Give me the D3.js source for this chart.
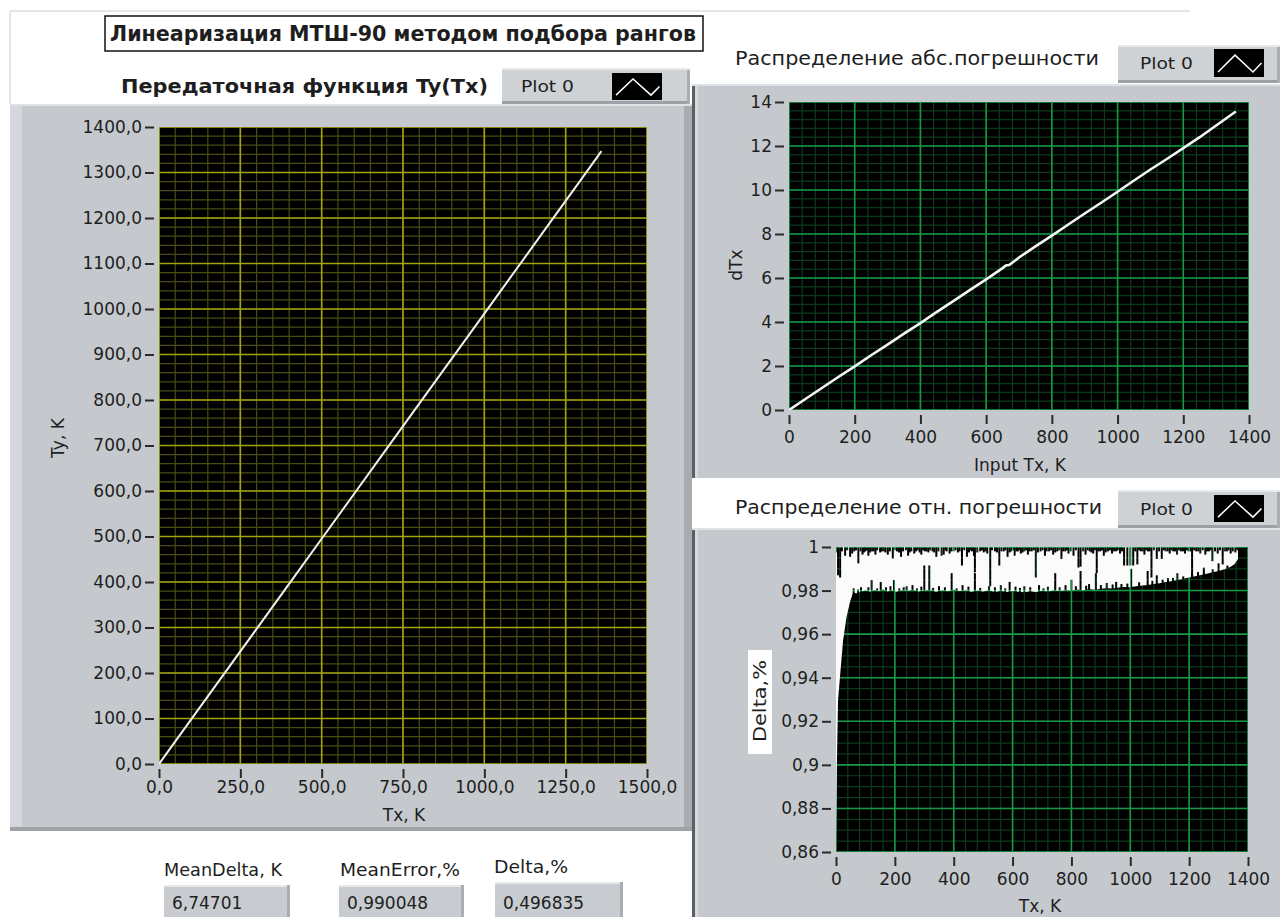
<!DOCTYPE html>
<html><head><meta charset="utf-8">
<script src="https://cdn.jsdelivr.net/npm/d3@7"></script>
<style>
body{margin:0;background:#fff}
svg{display:block}
text{font-family:"DejaVu Sans",sans-serif;fill:#1e1e1e}
</style>
</head><body>
<svg id="c" width="1280" height="917"></svg>
<script>
// ---------------- DATA ----------------
const mainTitle = "Линеаризация МТШ-90  методом подбора рангов";
const transferTitle = "Передаточная функция Ty(Tx)";
const absTitle = "Распределение абс.погрешности";
const relTitle = "Распределение отн. погрешности";
const legendName = "Plot 0";

// Transfer function Ty(Tx)
const transferTx = [0, 100, 200, 300, 400, 500, 600, 700, 800, 900, 1000, 1100, 1200, 1300, 1360];
const transferTy = [0, 99, 198, 297, 396, 495, 594, 693, 792, 891, 990, 1089, 1188, 1287, 1347];
const transferXTicks = [0, 250, 500, 750, 1000, 1250, 1500];
const transferYTicks = [0, 100, 200, 300, 400, 500, 600, 700, 800, 900, 1000, 1100, 1200, 1300, 1400];

// Absolute error dTx(Tx)
const absTx  = [0, 50, 100, 150, 200, 250, 300, 350, 400, 450, 500, 550, 600, 650, 660, 670, 700, 750, 800, 850, 900, 950, 1000, 1050, 1100, 1150, 1200, 1250, 1300, 1360];
const absDTx = [0, 0.5, 1.0, 1.5, 1.98, 2.49, 2.97, 3.47, 3.95, 4.46, 4.95, 5.45, 5.94, 6.45, 6.57, 6.59, 6.93, 7.44, 7.93, 8.43, 8.93, 9.42, 9.92, 10.43, 10.93, 11.41, 11.9, 12.4, 12.93, 13.57];
const absXTicks = [0, 200, 400, 600, 800, 1000, 1200, 1400];
const absYTicks = [0, 2, 4, 6, 8, 10, 12, 14];

// Relative error Delta,% : lower edge of the dense trace (top is clipped at 1)
const relLower = [[0,0.865],[3,0.900],[7,0.930],[14,0.941],[24,0.957],[36,0.968],[48,0.975],[58,0.979],[70,0.9788],[85,0.9795],
 [100,0.9801],[115,0.9794],[130,0.9803],[145,0.9797],[160,0.9805],[175,0.9796],[190,0.9802],[205,0.9795],[220,0.9801],[240,0.9798],
 [260,0.9804],[280,0.9796],[300,0.9800],[320,0.9803],[340,0.9795],[360,0.9801],[380,0.9797],[400,0.9804],[420,0.9798],[440,0.9801],
 [460,0.9795],[480,0.9800],[500,0.9796],[520,0.9802],[540,0.9794],[560,0.9799],[580,0.9793],[600,0.9798],[620,0.9795],[640,0.9792],
 [660,0.9797],[680,0.9794],[700,0.9799],[720,0.9796],[740,0.9801],[760,0.9798],[780,0.9803],[800,0.9800],[820,0.9805],[840,0.9802],
 [860,0.9807],[880,0.9804],[900,0.9808],[920,0.9811],[940,0.9809],[960,0.9814],[980,0.9816],[1000,0.9815],[1020,0.9820],[1040,0.9823],
 [1060,0.9826],[1080,0.9830],[1100,0.9834],[1120,0.9839],[1140,0.9843],[1160,0.9849],[1180,0.9854],[1200,0.9860],[1220,0.9866],[1240,0.9871],
 [1260,0.9877],[1280,0.9884],[1300,0.9890],[1320,0.9898],[1340,0.9908],[1355,0.9922],[1366,0.9945]];
// downward drop-outs from the top of the trace
const relDips = [[7,0.987],[14,0.986],[31,0.996],[48,0.9955],[62,0.998],[76,0.9925],[90,0.9965],[100,0.998],[110,0.996],[122,0.998],
 [134,0.9965],[150,0.9975],[162,0.998],[176,0.9965],[193,0.9947],[207,0.998],[221,0.9955],[245,0.996],[256,0.998],[266,0.997],
 [278,0.9985],[290,0.9965],[302,0.998],[314,0.9975],[328,0.998],[341,0.9955],[359,0.996],[366,0.9965],[376,0.998],[386,0.997],
 [400,0.998],[414,0.9975],[428,0.9915],[445,0.9955],[452,0.9975],[462,0.998],[469,0.996],[472,0.9884],[490,0.998],[502,0.9975],
 [514,0.997],[524,0.982],[540,0.998],[555,0.9915],[570,0.998],[583,0.9955],[596,0.998],[607,0.996],[618,0.998],[628,0.997],
 [640,0.998],[652,0.9965],[665,0.998],[679,0.986],[695,0.998],[710,0.996],[724,0.998],[738,0.9965],[752,0.998],[766,0.9945],
 [779,0.998],[790,0.997],[807,0.996],[824,0.9906],[831,0.991],[848,0.9965],[862,0.998],[874,0.997],[886,0.988],[898,0.998],
 [910,0.996],[924,0.998],[938,0.997],[952,0.998],[965,0.997],[979,0.9915],[990,0.9915],[1000,0.9915],[1010,0.9915],[1024,0.992],
 [1036,0.998],[1048,0.9965],[1060,0.998],[1072,0.986],[1090,0.9945],[1107,0.9945],[1120,0.998],[1134,0.997],[1146,0.998],[1159,0.9965],
 [1172,0.998],[1186,0.997],[1198,0.998],[1210,0.9857],[1224,0.998],[1238,0.997],[1255,0.9965],[1267,0.998],[1279,0.9935],[1297,0.997],
 [1314,0.992],[1328,0.998],[1341,0.997],[1357,0.9975],
 [3,0.9975],[20,0.998],[38,0.9985],[55,0.997],[68,0.9985],[83,0.998],[95,0.9975],[105,0.9985],[116,0.9975],[128,0.998],
 [140,0.9985],[156,0.998],[168,0.9975],[183,0.998],[200,0.9985],[214,0.9975],[228,0.998],[238,0.9985],[250,0.9975],[272,0.998],
 [284,0.9975],[296,0.9985],[308,0.998],[320,0.9985],[334,0.9975],[348,0.998],[372,0.9985],[392,0.998],[406,0.9985],[420,0.998],
 [436,0.9985],[458,0.9985],[480,0.9975],[496,0.9985],[508,0.998],[530,0.9985],[547,0.9975],[562,0.998],[576,0.9985],[590,0.9975],
 [602,0.9985],[613,0.998],[623,0.9985],[634,0.9975],[646,0.9985],[658,0.998],[672,0.9985],[686,0.9975],[702,0.9985],[716,0.998],
 [731,0.9985],[745,0.9975],[759,0.9985],[772,0.998],[785,0.9985],[798,0.998],[815,0.9985],[840,0.998],[855,0.9985],[868,0.9975],
 [880,0.9985],[892,0.998],[904,0.9985],[917,0.9975],[931,0.9985],[945,0.998],[958,0.9985],[972,0.998],[1017,0.998],[1030,0.9985],
 [1042,0.998],[1054,0.9985],[1066,0.998],[1080,0.9985],[1098,0.998],[1114,0.9985],[1127,0.998],[1140,0.9985],[1152,0.998],[1165,0.9985],
 [1179,0.998],[1192,0.9985],[1204,0.998],[1217,0.9985],[1231,0.998],[1246,0.9985],[1261,0.998],[1273,0.9985],[1288,0.998],[1305,0.9985],
 [1321,0.998],[1334,0.9985],[1348,0.998],[1363,0.9985]];
// upward excursions of the lower edge
const relRises = [[60,0.981],[85,0.9815],[121,0.9848],[152,0.9839],[197,0.9848],[240,0.982],[260,0.9825],[300,0.9915],[317,0.9915],[350,0.982],
 [393,0.988],[430,0.9825],[472,0.988],[520,0.982],[560,0.9825],[590,0.984],[640,0.982],[690,0.9825],[745,0.988],[800,0.985],
 [831,0.989],[860,0.983],[883,0.988],[920,0.9835],[952,0.984],[1003,0.990],[1059,0.989],[1090,0.987],[1128,0.9857],[1160,0.988],
 [1210,0.988],[1250,0.9905],[1300,0.9925],
 [75,0.9805],[110,0.9815],[140,0.981],[170,0.9815],[185,0.982],[215,0.981],[230,0.9815],[275,0.981],[290,0.9818],[330,0.9812],
 [370,0.9815],[410,0.981],[450,0.9818],[490,0.9812],[540,0.9815],[575,0.981],[610,0.9818],[625,0.9812],[660,0.9815],[705,0.981],
 [720,0.9818],[760,0.9815],[780,0.9825],[815,0.982],[850,0.9822],[900,0.9825],[940,0.9828],[970,0.983],[990,0.9832],[1030,0.9838],
 [1075,0.9845],[1110,0.985],[1145,0.9858],[1180,0.9865],[1230,0.9885],[1280,0.9898],[1330,0.9915]];
const relXTicks = [0, 200, 400, 600, 800, 1000, 1200, 1400];
const relYTicks = [0.86, 0.88, 0.9, 0.92, 0.94, 0.96, 0.98, 1];

// indicators
const indicatorLabels = ["MeanDelta, K", "MeanError,%", "Delta,%"];
const indicatorValues = ["6,74701", "0,990048", "0,496835"];

// ---------------- DRAWING ----------------
const svg = d3.select("#c");
const PANEL = "#c5c9cd";
const FONT = '"DejaVu Sans",sans-serif';

svg.append("line").attr("x1",10).attr("y1",11).attr("x2",1190).attr("y2",11).attr("stroke","#e4e6e8").attr("stroke-width",2);
svg.append("line").attr("x1",10).attr("y1",11).attr("x2",10).attr("y2",104).attr("stroke","#e4e6e8").attr("stroke-width",2);

svg.append("rect").attr("x",105).attr("y",16).attr("width",598).attr("height",35)
  .attr("fill","#fff").attr("stroke","#111").attr("stroke-width",1.5);
svg.append("text").attr("x",110).attr("y",34).attr("dominant-baseline","central")
  .attr("font-size",21).attr("font-weight","bold").attr("textLength",586).attr("lengthAdjust","spacingAndGlyphs")
  .text(mainTitle);

function panel(x, y, w, h, leftDark) {
  const g = svg.append("g");
  g.append("rect").attr("x",x).attr("y",y).attr("width",w).attr("height",h).attr("fill",PANEL);
  if (leftDark) {
    g.append("rect").attr("x",x).attr("y",y).attr("width",3).attr("height",h).attr("fill","#5c6064");
    g.append("rect").attr("x",x+3).attr("y",y).attr("width",3).attr("height",h).attr("fill","#d6d9dd");
  } else {
    g.append("rect").attr("x",x).attr("y",y).attr("width",12).attr("height",h).attr("fill","#d4d8dd");
    g.append("rect").attr("x",x+w-8).attr("y",y).attr("width",8).attr("height",h).attr("fill","#a8acb0");
    g.append("rect").attr("x",x).attr("y",y+h-4).attr("width",w).attr("height",4).attr("fill","#9ea2a6");
  }
  g.append("rect").attr("x",x).attr("y",y).attr("width",w).attr("height",2).attr("fill","#dfe2e5");
}

function legend(x, y, w, h, ix, iy, iw, ih, tx, ty) {
  const g = svg.append("g");
  g.append("rect").attr("x",x).attr("y",y).attr("width",w).attr("height",h).attr("fill","#cfd2d5");
  g.append("rect").attr("x",x).attr("y",y+h-3).attr("width",w).attr("height",3).attr("fill","#9da1a5");
  g.append("rect").attr("x",x+w-3).attr("y",y).attr("width",3).attr("height",h).attr("fill","#a9adb1");
  g.append("rect").attr("x",x).attr("y",y).attr("width",w).attr("height",2).attr("fill","#e6e8ea");
  g.append("text").attr("x",tx).attr("y",ty).attr("dominant-baseline","central").attr("font-size",16)
    .attr("textLength",53).attr("lengthAdjust","spacingAndGlyphs").text(legendName);
  g.append("rect").attr("x",ix).attr("y",iy).attr("width",iw).attr("height",ih).attr("fill","#000");
  const pts = [[0.08,0.82],[0.42,0.22],[0.78,0.82],[0.95,0.5]].map(p => [ix + p[0]*iw, iy + p[1]*ih]);
  g.append("polyline").attr("points", pts.map(p => p.join(",")).join(" "))
    .attr("fill","none").attr("stroke","#fff").attr("stroke-width",1.5);
}

function plot(cfg) {
  const {x, y, w, h, xDom, yDom, xMinor, yMinor, xTicks, yTicks, major, minor, xFmt, yFmt, xPad} = cfg;
  const xs = d3.scaleLinear().domain(xDom).range([x, x + w]);
  const ys = d3.scaleLinear().domain(yDom).range([y + h, y]);
  const g = svg.append("g");
  const clipId = "clip" + Math.round(x);
  svg.append("clipPath").attr("id", clipId).append("rect").attr("x",x).attr("y",y).attr("width",w).attr("height",h);
  g.append("rect").attr("x",x).attr("y",y).attr("width",w).attr("height",h).attr("fill","#000");
  const grid = g.append("g").attr("clip-path", `url(#${clipId})`);
  const eps = 1e-9;
  grid.selectAll(".vm").data(d3.range(xDom[0], xDom[1] + eps, xMinor)).join("line")
    .attr("x1", d => xs(d)).attr("x2", d => xs(d)).attr("y1", y).attr("y2", y + h)
    .attr("stroke", minor).attr("stroke-width", 1.2);
  grid.selectAll(".hm").data(d3.range(yDom[0], yDom[1] + eps, yMinor)).join("line")
    .attr("y1", d => ys(d)).attr("y2", d => ys(d)).attr("x1", x).attr("x2", x + w)
    .attr("stroke", minor).attr("stroke-width", 1.2);
  grid.selectAll(".vM").data(xTicks).join("line")
    .attr("x1", d => xs(d)).attr("x2", d => xs(d)).attr("y1", y).attr("y2", y + h)
    .attr("stroke", major).attr("stroke-width", 1.6);
  grid.selectAll(".hM").data(yTicks).join("line")
    .attr("y1", d => ys(d)).attr("y2", d => ys(d)).attr("x1", x).attr("x2", x + w)
    .attr("stroke", major).attr("stroke-width", 1.6);

  const ya = svg.append("g").attr("transform", `translate(${x - 5},0)`)
    .call(d3.axisLeft(ys).tickValues(yTicks).tickFormat(yFmt).tickSize(9).tickPadding(3));
  const xa = svg.append("g").attr("transform", `translate(0,${y + h + 5})`)
    .call(d3.axisBottom(xs).tickValues(xTicks).tickFormat(xFmt).tickSize(9).tickPadding(xPad));
  [ya, xa].forEach(a => {
    a.select(".domain").remove();
    a.selectAll(".tick line").attr("stroke", "#2a2a2a").attr("stroke-width", 2);
    a.selectAll(".tick text").attr("fill", "#1e1e1e").attr("font-size", 17)
      .attr("font-family", FONT);
  });
  return {xs, ys, clipId, g};
}

function label(txt, x, y, opts = {}) {
  const t = svg.append("text").attr("x", x).attr("y", y).attr("dominant-baseline", "central")
    .attr("font-size", opts.size || 17).attr("text-anchor", opts.anchor || "middle").text(txt);
  if (opts.rotate) t.attr("transform", `rotate(-90,${x},${y})`);
  if (opts.bold) t.attr("font-weight", "bold");
  if (opts.len) t.attr("textLength", opts.len).attr("lengthAdjust", "spacingAndGlyphs");
  return t;
}

// ---------- Left: transfer function ----------
panel(10, 104, 682, 727, false);
label(transferTitle, 121, 86, {anchor: "start", size: 20, bold: true, len: 367});
legend(502, 68, 188, 36, 612, 73, 50, 27, 521, 86);

const commaFmt1 = d => d3.format(".1f")(d).replace(".", ",");
const L = plot({x: 159, y: 127, w: 488, h: 637, xDom: [0, 1500], yDom: [0, 1400], xMinor: 50, yMinor: 20,
  xTicks: transferXTicks, yTicks: transferYTicks, major: "#a3a312", minor: "#4b4b12",
  xFmt: commaFmt1, yFmt: commaFmt1, xPad: 3});
svg.append("path").datum(transferTx.map((t, i) => [t, transferTy[i]]))
  .attr("clip-path", `url(#${L.clipId})`)
  .attr("d", d3.line().x(d => L.xs(d[0])).y(d => L.ys(d[1])))
  .attr("fill", "none").attr("stroke", "#f0f0f0").attr("stroke-width", 2);
label("Ty, K", 58, 438, {rotate: true});
label("Tx, K", 404, 815);

// ---------- Right top: absolute error ----------
panel(692, 84, 588, 394, true);
label(absTitle, 735, 58, {anchor: "start", size: 19, len: 364});
legend(1118, 45, 162, 38, 1214, 49, 50, 28, 1140, 63);
const A = plot({x: 789, y: 102, w: 460, h: 308, xDom: [0, 1400], yDom: [0, 14], xMinor: 40, yMinor: 0.4,
  xTicks: absXTicks, yTicks: absYTicks, major: "#169845", minor: "#0c3a1c",
  xFmt: d => String(d), yFmt: d => String(d), xPad: 7});
svg.append("path").datum(absTx.map((t, i) => [t, absDTx[i]]))
  .attr("clip-path", `url(#${A.clipId})`)
  .attr("d", d3.line().x(d => A.xs(d[0])).y(d => A.ys(d[1])))
  .attr("fill", "none").attr("stroke", "#f4f4f4").attr("stroke-width", 2.6);
label("dTx", 736, 265, {rotate: true});
label("Input Tx, K", 1020, 465);

// ---------- Right bottom: relative error ----------
panel(692, 528, 588, 389, true);
label(relTitle, 735, 507, {anchor: "start", size: 19, len: 367});
legend(1118, 490, 162, 38, 1214, 495, 50, 27, 1140, 509);
const relFmt = d => String(+d.toFixed(2)).replace(".", ",");
const R = plot({x: 836, y: 547, w: 412, h: 305, xDom: [0, 1400], yDom: [0.86, 1], xMinor: 40, yMinor: 0.005,
  xTicks: relXTicks, yTicks: relYTicks, major: "#169845", minor: "#0c3a1c",
  xFmt: d => String(d), yFmt: relFmt, xPad: 7});

const mask = svg.append("mask").attr("id", "relMask").attr("maskUnits", "userSpaceOnUse")
  .attr("x", 0).attr("y", 0).attr("width", 1280).attr("height", 917);
mask.append("rect").attr("x", 0).attr("y", 0).attr("width", 1280).attr("height", 917).attr("fill", "#fff");
mask.selectAll(".dip").data(relDips).join("rect")
  .attr("x", d => R.xs(d[0]) - 1).attr("width", 2)
  .attr("y", R.ys(1) - 2).attr("height", d => R.ys(d[1]) - R.ys(1) + 2).attr("fill", "#000");
mask.selectAll(".rise").data(relRises).join("rect")
  .attr("x", d => R.xs(d[0]) - 1).attr("width", 2)
  .attr("y", d => R.ys(d[1])).attr("height", d => R.ys(0.975) - R.ys(d[1])).attr("fill", "#000");

svg.append("g").attr("clip-path", `url(#${R.clipId})`)
  .append("path").datum(relLower)
  .attr("mask", "url(#relMask)")
  .attr("d", d3.area().x(d => R.xs(d[0])).y0(d => R.ys(d[1])).y1(R.ys(1) - 2))
  .attr("fill", "#fbfbfb");

svg.append("rect").attr("x", 748).attr("y", 650).attr("width", 24).attr("height", 104).attr("fill", "#fff");
label("Delta,%", 760, 701, {rotate: true, len: 82});
label("Tx, K", 1040, 906);

// ---------- Indicators ----------
const indLabelX = [164, 340, 494], indLabelY = [870, 870, 867], indLabelW = [118, 120, 74];
const indBoxX = [164, 339, 495], indBoxY = [885, 885, 882], indBoxW = [126, 125, 128];
indicatorLabels.forEach((t, i) => {
  label(t, indLabelX[i], indLabelY[i], {anchor: "start", size: 17, len: indLabelW[i]});
  svg.append("rect").attr("x", indBoxX[i]).attr("y", indBoxY[i]).attr("width", indBoxW[i]).attr("height", 917 - indBoxY[i])
    .attr("fill", "#c8ccd0");
  svg.append("rect").attr("x", indBoxX[i]).attr("y", indBoxY[i]).attr("width", indBoxW[i]).attr("height", 2).attr("fill", "#e6e8ea");
  svg.append("rect").attr("x", indBoxX[i] + indBoxW[i] - 3).attr("y", indBoxY[i]).attr("width", 3).attr("height", 917 - indBoxY[i]).attr("fill", "#a9adb1");
  label(indicatorValues[i], indBoxX[i] + 8, 903, {anchor: "start", size: 17});
});
</script>
</body></html>
